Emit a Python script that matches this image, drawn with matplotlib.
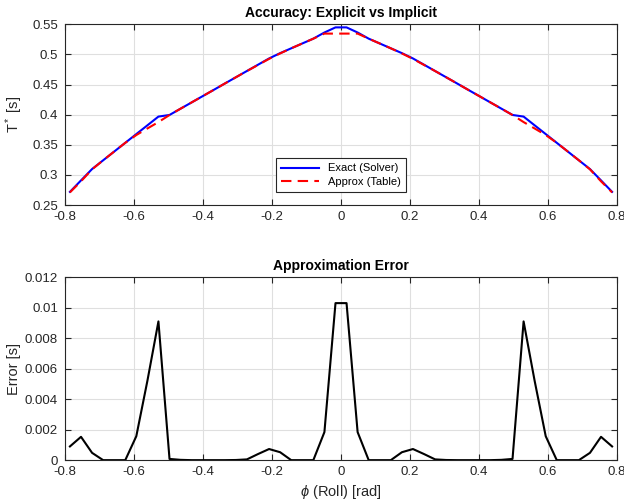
import matplotlib
matplotlib.use("Agg")
import matplotlib.pyplot as plt
from matplotlib.ticker import FormatStrFormatter

plt.rcParams['font.family'] = ['Liberation Sans', 'DejaVu Sans']
plt.rcParams['axes.unicode_minus'] = False
plt.rcParams['mathtext.fontset'] = 'custom'
plt.rcParams['mathtext.rm'] = 'Liberation Sans'
plt.rcParams['mathtext.it'] = 'Liberation Sans:italic'

# roll angle samples [rad]
phi = [-0.7854, -0.7533, -0.7213, -0.6892, -0.6572, -0.6251, -0.5931, -0.5610,
       -0.5290, -0.4969, -0.4649, -0.4328, -0.4008, -0.3687, -0.3367, -0.3046,
       -0.2726, -0.2405, -0.2084, -0.1764, -0.1443, -0.1123, -0.0802, -0.0481,
       -0.0160, 0.0160, 0.0481, 0.0802, 0.1123, 0.1443, 0.1764, 0.2084,
       0.2405, 0.2726, 0.3046, 0.3367, 0.3687, 0.4008, 0.4328, 0.4649,
       0.4969, 0.5290, 0.5610, 0.5931, 0.6251, 0.6572, 0.6892, 0.7213,
       0.7533, 0.7854]

# exact solver result T* [s]
t_exact = [0.2720, 0.2910, 0.3098, 0.3243, 0.3388, 0.3533, 0.3678, 0.3823,
           0.3968, 0.3995, 0.4099, 0.4203, 0.4307, 0.4411, 0.4516, 0.4620,
           0.4724, 0.4828, 0.4932, 0.5020, 0.5100, 0.5180, 0.5260, 0.5362,
           0.5447, 0.5447, 0.5362, 0.5260, 0.5180, 0.5100, 0.5020, 0.4932,
           0.4828, 0.4724, 0.4620, 0.4516, 0.4411, 0.4307, 0.4203, 0.4099,
           0.3995, 0.3968, 0.3823, 0.3678, 0.3533, 0.3388, 0.3243, 0.3098,
           0.2910, 0.2720]

# table approximation T* [s]
t_approx = [0.2711, 0.2895, 0.3093, 0.3243, 0.3388, 0.3533, 0.3662, 0.3771,
            0.3877, 0.3994, 0.4099, 0.4203, 0.4307, 0.4411, 0.4516, 0.4620,
            0.4723, 0.4824, 0.4925, 0.5015, 0.5100, 0.5180, 0.5260, 0.5344,
            0.5344, 0.5344, 0.5344, 0.5260, 0.5180, 0.5100, 0.5015, 0.4925,
            0.4824, 0.4723, 0.4620, 0.4516, 0.4411, 0.4307, 0.4203, 0.4099,
            0.3994, 0.3877, 0.3771, 0.3662, 0.3533, 0.3388, 0.3243, 0.3093,
            0.2895, 0.2711]

# absolute error [s]
err = [0.0009, 0.00153, 0.00048, 0.0, 0.0, 0.0, 0.00157, 0.0052,
       0.0091, 0.00008, 0.00002, 0.0, 0.0, 0.0, 0.0, 0.00001,
       0.00005, 0.0004, 0.00073, 0.00052, 0.0, 0.0, 0.0, 0.00184,
       0.0103, 0.0103, 0.00184, 0.0, 0.0, 0.0, 0.00052, 0.00073,
       0.0004, 0.00005, 0.00001, 0.0, 0.0, 0.0, 0.0, 0.00002,
       0.00008, 0.0091, 0.0052, 0.00157, 0.0, 0.0, 0.0, 0.00048,
       0.00153, 0.0009]

xticks = [-0.8, -0.6, -0.4, -0.2, 0, 0.2, 0.4, 0.6, 0.8]
yticks_top = [0.25, 0.3, 0.35, 0.4, 0.45, 0.5, 0.55]
yticks_bot = [0, 0.002, 0.004, 0.006, 0.008, 0.01, 0.012]

edge = '#262626'


def matlab_style(ax):
    ax.grid(True, color='#dfdfdf', linewidth=0.8)
    ax.set_axisbelow(True)
    for s in ax.spines.values():
        s.set_color(edge)
        s.set_linewidth(0.8)
    ax.tick_params(direction='in', top=True, right=True, length=4,
                   width=0.8, color=edge, labelsize=9.5, labelcolor=edge, pad=4)
    ax.tick_params(axis='y', pad=5)
    ax.set_xlim(-0.8, 0.8)
    ax.set_xticks(xticks)
    ax.xaxis.set_major_formatter(FormatStrFormatter('%g'))
    ax.yaxis.set_major_formatter(FormatStrFormatter('%g'))


fig = plt.figure(figsize=(6.24, 5.04), dpi=100)
ax1 = fig.add_axes([0.104, 0.593, 0.885, 0.359])
ax2 = fig.add_axes([0.104, 0.087, 0.885, 0.363])

ax1.plot(phi, t_exact, color='#0000ff', linewidth=1.5, label='Exact (Solver)')
ax1.plot(phi, t_approx, color='#ff0000', linewidth=1.5, linestyle=(0, (5, 3)),
         label='Approx (Table)')
matlab_style(ax1)
ax1.set_ylim(0.25, 0.55)
ax1.set_yticks(yticks_top)
ax1.set_ylabel('T$^*$ [s]', fontsize=10.5, color=edge, labelpad=5)
ax1.set_title('Accuracy: Explicit vs Implicit', fontsize=10, fontweight='bold', pad=5)
leg = ax1.legend(loc='lower center', bbox_to_anchor=(0.5, 0.04), fontsize=8,
                 fancybox=False, framealpha=1, edgecolor=edge, handlelength=3.4,
                 borderpad=0.45, labelspacing=0.35)
leg.get_frame().set_linewidth(0.8)

ax2.plot(phi, err, color='black', linewidth=1.5)
matlab_style(ax2)
ax2.set_ylim(0, 0.012)
ax2.set_yticks(yticks_bot)
ax2.set_ylabel('Error [s]', fontsize=10.5, color=edge, labelpad=3)
ax2.set_xlabel('$\\phi$ (Roll) [rad]', fontsize=10.5, color=edge)
ax2.set_title('Approximation Error', fontsize=10, fontweight='bold', pad=5)

fig.savefig('out.png', dpi=100)
